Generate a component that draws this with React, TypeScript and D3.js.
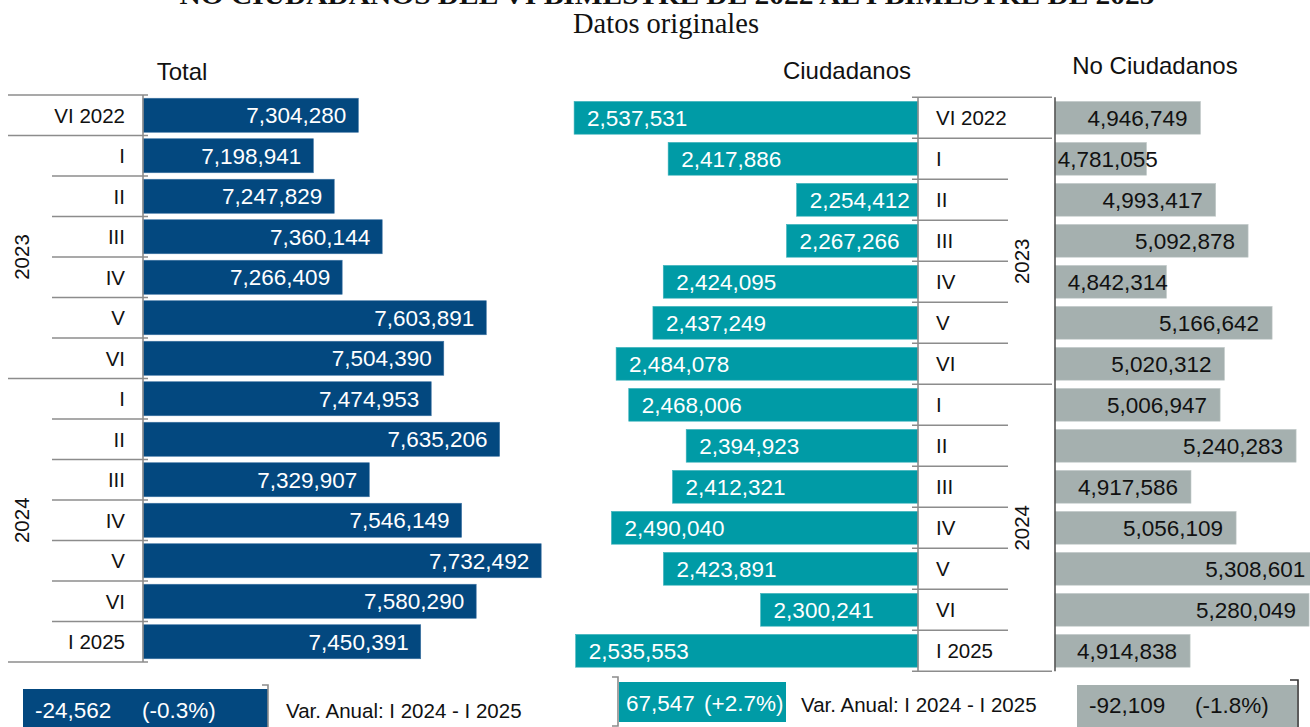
import React from "react";
import * as d3 from "d3";

const categories = ["VI 2022", "I", "II", "III", "IV", "V", "VI", "I", "II", "III", "IV", "V", "VI", "I 2025"];
const total = [7304280, 7198941, 7247829, 7360144, 7266409, 7603891, 7504390, 7474953, 7635206, 7329907, 7546149, 7732492, 7580290, 7450391];
const ciudadanos = [2537531, 2417886, 2254412, 2267266, 2424095, 2437249, 2484078, 2468006, 2394923, 2412321, 2490040, 2423891, 2300241, 2535553];
const noCiudadanos = [4946749, 4781055, 4993417, 5092878, 4842314, 5166642, 5020312, 5006947, 5240283, 4917586, 5056109, 5308601, 5280049, 4914838];
const yearGroups = [
  { label: "2023", from: 1, to: 7 },
  { label: "2024", from: 7, to: 14 },
];
const varAbs = [-24562, 67547, -92109];
const varPct = [-0.3, 2.7, -1.8];
const varLabel = "Var. Anual: I 2024 - I 2025";
const panelTitles = ["Total", "Ciudadanos", "No Ciudadanos"];
const titleLine = "NO CIUDADANOS DEL VI BIMESTRE DE 2022 AL I BIMESTRE DE 2025";
const subtitle = "Datos originales";

const BLUE = "#03487f";
const TEAL = "#009ba6";
const GRAY = "#a5b0af";
const LINE = "#8c8c8c";
const TXT = "#111";
const SANS = "'Liberation Sans', Arial, sans-serif";
const SERIF = "'Liberation Serif', 'Times New Roman', serif";

const locale = d3.formatLocale({ decimal: ".", thousands: ",", grouping: [3], currency: ["$", ""], minus: "-" });
const fmt = locale.format(",");
const fmtPct = (p: number) => `(${p > 0 ? "+" : ""}${p.toFixed(1)}%)`;
const VFS = 22.5;

export default function App() {
  const idx = categories.map((_, i) => i);

  // Left panel
  const yL = d3.scaleBand<number>().domain(idx).range([95, 662]).paddingInner(0.16).paddingOuter(0.08);
  const stepL = yL.step();
  const xL = d3.scaleLinear().domain([6800000, 7800000]).range([143, 570]);

  // Middle & right panels
  const yR = d3.scaleBand<number>().domain(idx).range([97.3, 671.3]).paddingInner(0.2).paddingOuter(0.1);
  const stepR = yR.step();
  const xM = d3.scaleLinear().domain([2100000, 2600000]).range([918, 525]);
  const xN = d3.scaleLinear().domain([4500000, 5500000]).range([1055, 1380.7]);

  const boundL = (i: number) => 95 + i * stepL;
  const boundR = (i: number) => 97.3 + i * stepR;
  const majors = [0, 1, 7, 14];
  const bounds = d3.range(15);

  const estW = (s: string, fs: number) => {
    let w = 0;
    for (const c of s) w += c === "," || c === "." ? 0.278 : c === "-" ? 0.333 : 0.556;
    return w * fs;
  };

  return (
    <svg
      width={1310}
      height={727}
      style={{ position: "absolute", left: 0, top: 0, background: "#fff", overflow: "hidden" }}
    >
      {/* Titles */}
      <text x={667} y={4} textAnchor="middle" fontFamily={SERIF} fontWeight="bold" fontSize={26}
        textLength={975} lengthAdjust="spacingAndGlyphs" fill={TXT}>{titleLine}</text>
      <text x={666} y={33} textAnchor="middle" fontFamily={SERIF} fontSize={28.5} fill={TXT}>{subtitle}</text>

      <text x={182} y={80} textAnchor="middle" fontFamily={SANS} fontSize={24} fill={TXT}>{panelTitles[0]}</text>
      <text x={847} y={79} textAnchor="middle" fontFamily={SANS} fontSize={24} fill={TXT}>{panelTitles[1]}</text>
      <text x={1155} y={74} textAnchor="middle" fontFamily={SANS} fontSize={24} fill={TXT}>{panelTitles[2]}</text>

      {/* LEFT PANEL */}
      <g>
        {bounds.map((i) => (
          <line key={"ll" + i} x1={majors.includes(i) ? 8 : 52} x2={148} y1={boundL(i)} y2={boundL(i)}
            stroke={LINE} strokeWidth={1.6} />
        ))}
        {total.map((v, i) => {
          const y = yL(i)!;
          const h = yL.bandwidth();
          return (
            <g key={"tb" + i}>
              <rect x={xL.range()[0]} y={y} width={xL(v) - xL.range()[0]} height={h} fill={BLUE}
                stroke="#3f73a3" strokeWidth={0.6} />
              <text x={xL(v) - 12} y={y + h / 2} dy="0.36em" textAnchor="end" fontFamily={SANS}
                fontSize={VFS} fill="#fff">{fmt(v)}</text>
              <text x={125} y={boundL(i) + stepL / 2} dy="0.36em" textAnchor="end" fontFamily={SANS}
                fontSize={20.5} fill={TXT}>{categories[i]}</text>
            </g>
          );
        })}
        <line x1={143} x2={143} y1={95} y2={662} stroke={LINE} strokeWidth={1.6} />
        {yearGroups.map((g) => {
          const cy = (boundL(g.from) + boundL(g.to)) / 2;
          return (
            <text key={"yl" + g.label} transform={`translate(22,${cy}) rotate(-90)`} textAnchor="middle"
              dy="0.36em" fontFamily={SANS} fontSize={20.5} fill={TXT}>{g.label}</text>
          );
        })}
      </g>

      {/* MIDDLE PANEL */}
      <g>
        {bounds.map((i) => (
          <line key={"ml" + i} x1={912} x2={majors.includes(i) ? 1052 : 1008} y1={boundR(i)} y2={boundR(i)}
            stroke={LINE} strokeWidth={1.6} />
        ))}
        {ciudadanos.map((v, i) => {
          const y = yR(i)!;
          const h = yR.bandwidth();
          return (
            <g key={"cb" + i}>
              <rect x={xM(v)} y={y} width={xM.range()[0] - xM(v)} height={h} fill={TEAL}
                stroke="#3fb3bc" strokeWidth={0.6} />
              <text x={xM(v) + 13} y={y + h / 2} dy="0.36em" textAnchor="start" fontFamily={SANS}
                fontSize={VFS} fill="#fff">{fmt(v)}</text>
              <text x={936} y={boundR(i) + stepR / 2} dy="0.36em" textAnchor="start" fontFamily={SANS}
                fontSize={20.5} fill={TXT}>{categories[i]}</text>
            </g>
          );
        })}
        <line x1={918} x2={918} y1={97.3} y2={671.3} stroke={LINE} strokeWidth={1.6} />
        {yearGroups.map((g) => {
          const cy = (boundR(g.from) + boundR(g.to)) / 2;
          return (
            <text key={"ym" + g.label} transform={`translate(1022,${cy}) rotate(-90)`} textAnchor="middle"
              dy="0.36em" fontFamily={SANS} fontSize={20.5} fill={TXT}>{g.label}</text>
          );
        })}
      </g>

      {/* RIGHT PANEL */}
      <g>
        {noCiudadanos.map((v, i) => {
          const y = yR(i)!;
          const h = yR.bandwidth();
          const x0 = xN.range()[0];
          const bw = xN(v) - x0;
          const label = fmt(v);
          const w = estW(label, VFS);
          const fits = bw >= w + 26;
          return (
            <g key={"nb" + i}>
              <rect x={x0} y={y} width={bw} height={h} fill={GRAY} stroke="#c3cbca" strokeWidth={0.6} />
              <text x={fits ? xN(v) - 13 : x0 + bw / 2 + 7} y={y + h / 2} dy="0.36em"
                textAnchor={fits ? "end" : "middle"} fontFamily={SANS} fontSize={VFS} fill={TXT}>{label}</text>
            </g>
          );
        })}
        <line x1={1055} x2={1055} y1={97.3} y2={671.3} stroke="#555" strokeWidth={1.6} />
      </g>

      {/* BOTTOM VARIATION BOXES */}
      <g fontFamily={SANS} fontSize={VFS}>
        {/* Total */}
        <rect x={23} y={689} width={245} height={50} fill={BLUE} />
        <path d="M262,685 H268 V740" fill="none" stroke={LINE} strokeWidth={1.6} />
        <text x={35} y={718} fill="#fff">{fmt(varAbs[0])}</text>
        <text x={142} y={718} fill="#fff">{fmtPct(varPct[0])}</text>
        <text x={286} y={718} fontSize={20.5} fill={TXT}>{varLabel}</text>

        {/* Ciudadanos */}
        <rect x={619} y={682} width={167} height={40} fill={TEAL} />
        <path d="M612,677 H618 V726 H612" fill="none" stroke={LINE} strokeWidth={1.6} />
        <text x={626} y={711} fill="#fff">{fmt(varAbs[1])}</text>
        <text x={704} y={711} fill="#fff">{fmtPct(varPct[1])}</text>
        <text x={801} y={712} fontSize={20.5} fill={TXT}>{varLabel}</text>

        {/* No Ciudadanos */}
        <rect x={1077} y={685} width={220} height={55} fill={GRAY} />
        <path d="M1290,680 H1298 V740" fill="none" stroke="#333" strokeWidth={1.6} />
        <text x={1089} y={713} fill={TXT}>{fmt(varAbs[2])}</text>
        <text x={1195} y={713} fill={TXT}>{fmtPct(varPct[2])}</text>
      </g>
    </svg>
  );
}
